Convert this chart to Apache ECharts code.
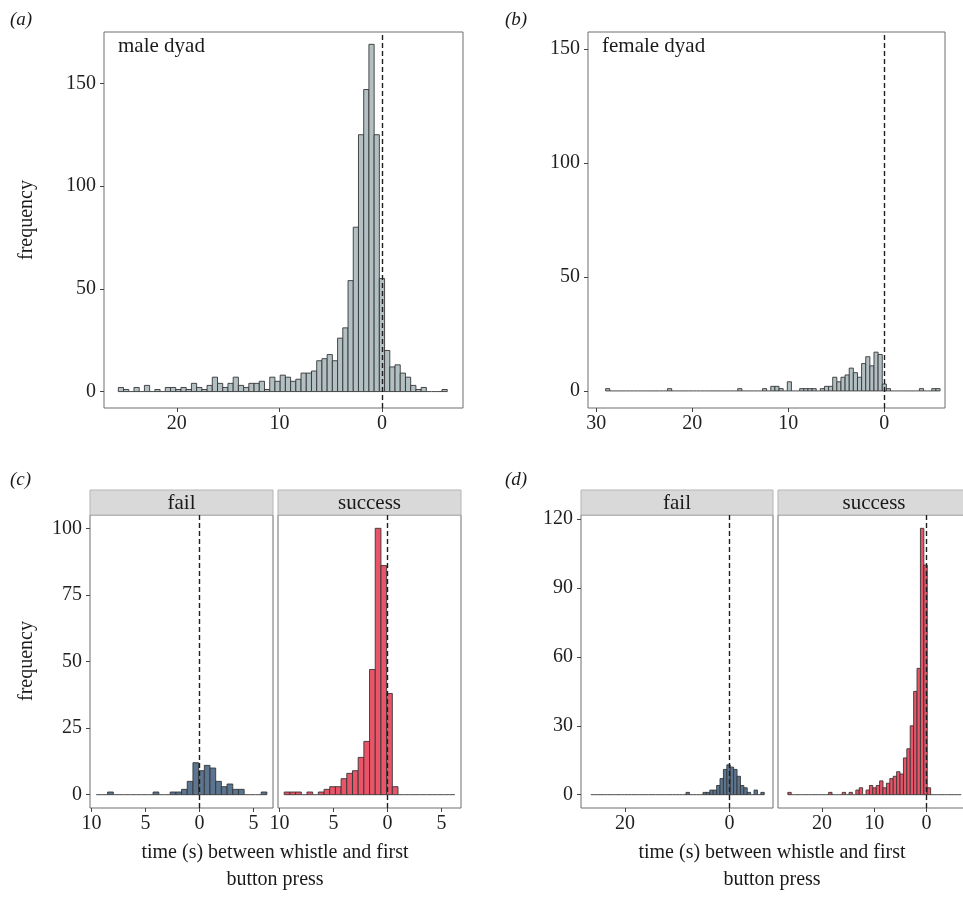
<!DOCTYPE html>
<html>
<head>
<meta charset="utf-8">
<script src="https://cdn.jsdelivr.net/npm/echarts@6/dist/echarts.min.js"></script>
<style>
  html, body { margin: 0; padding: 0; background: #ffffff; }
  #chart { width: 963px; height: 908px; }
</style>
</head>
<body>
<div id="chart"></div>
<script>
// ---- Histogram counts: time (s) between whistle and first button press ----
// Each panel: bin width, centre of the first (longest-latency) bin, counts in bin order.

// (a) male dyad
const maleBinWidth = 0.509;
const maleFirstCentre = 25.45;
const maleCounts = [2,1,0,2,0,3,0,1,0,2, 2,1,2,1,4,2,1,3,7,4, 2,4,7,3,2,4,4,5,1,7,
                    5,8,7,5,6,9,9,10,15,16, 18,15,26,31,54,80,125,147,169,125,
                    55,20,12,13,9,7,3,1,2,0, 0,0,1];

// (b) female dyad
const femaleBinWidth = 0.43;
const femaleFirstCentre = 28.81;
const femaleCounts = [1, 0,0,0,0,0,0,0,0,0,0,0,0,0,0, 1, 0,0,0,0,0,0,0,0,0,0,0,0,0,0,0,0,
                      1, 0,0,0,0,0, 1, 0, 2, 2, 1, 0, 4, 0, 0, 1, 1, 1, 1, 0, 1, 2, 2,
                      6, 4, 6, 7, 10, 8, 6, 12, 15, 11, 17, 16, 3, 1,
                      0,0,0,0,0,0,0, 1, 0, 0, 1, 1];

// (c) male dyad by outcome
const cBinWidth = 0.527;
const cFirstCentre = 9.311;
const cFailCounts    = [0,0,1,0,0,0,0,0,0,0, 1,0,0,1,1,2,5,12,9,11, 10,5,3,4,2,2,0,0,0,1];
const cSuccessCounts = [1,1,1,0,1,0,1,2,3,3, 6,8,9,14,20,47,100,86,38,3, 0,0,0,0,0,0,0,0,0,0];

// (d) female dyad by outcome
const dBinWidth = 0.65;
const dFirstCentre = 26.2;
const dFailCounts = [0,0,0,0,0,0,0,0,0,0, 0,0,0,0,0,0,0,0,0,0, 0,0,0,0,0,0,0,0,1,0,
                     0,0,0,1,1,2,2,4,7,11, 13,12,11,8,4,3,1,0,2,0, 1];
const dSuccessCounts = [1,0,0,0,0,0,0,0,0,0, 0,0,1,0,0,0,1,0,1,0, 2,3,0,2,4,3,4,6,3,5,
                        7,8,10,9,16,20,30,45,55,116, 100,3,0,0,0,0,0,0,0,0, 0];

// Axis tick values
const ticksA = { x: [0, 10, 20], y: [0, 50, 100, 150] };
const ticksB = { x: [0, 10, 20, 30], y: [0, 50, 100, 150] };
const ticksC = { x: [-5, 0, 5, 10], y: [0, 25, 50, 75, 100] };
const ticksDFail = [0, 20];
const ticksDSuccess = [0, 10, 20];
const ticksDY = [0, 30, 60, 90, 120];

// Labels
const panelTags = ['(a)', '(b)', '(c)', '(d)'];
const facetNames = ['fail', 'success'];
const yTitle = 'frequency';
const xTitleLines = ['time (s) between whistle and first', 'button press'];

// ---- Styling ----
const SERIF = '"Liberation Serif", "DejaVu Serif", serif';
const GREY_FILL = '#b3c0c3';
const FAIL_FILL = '#5b7590';
const SUCCESS_FILL = '#ea5468';
const BAR_EDGE = '#353535';

function binTable(first, width, counts) {
  return counts.map((n, i) => [first - i * width, n]);
}

function histRenderer(width, fill) {
  return function (params, api) {
    const c = api.value(0);
    const n = api.value(1);
    const p0 = api.coord([c - width / 2, 0]);
    const p1 = api.coord([c + width / 2, n]);
    const x = Math.min(p0[0], p1[0]);
    const w = Math.abs(p0[0] - p1[0]);
    if (n === 0) {
      return { type: 'line', shape: { x1: x, y1: p0[1], x2: x + w, y2: p0[1] },
               style: { stroke: BAR_EDGE, lineWidth: 0.9 } };
    }
    const y = Math.min(p0[1], p1[1]);
    const h = Math.abs(p0[1] - p1[1]);
    return { type: 'rect', shape: { x: x, y: y, width: w, height: h },
             style: { fill: fill, stroke: BAR_EDGE, lineWidth: 0.9 } };
  };
}

function histSeries(idx, first, width, counts, fill) {
  return {
    type: 'custom',
    xAxisIndex: idx, yAxisIndex: idx,
    data: binTable(first, width, counts),
    renderItem: histRenderer(width, fill),
    silent: true,
    markLine: {
      silent: true, symbol: 'none', animation: false,
      label: { show: false },
      lineStyle: { color: '#1e1e1e', type: [5, 3], width: 1.4 },
      data: [{ xAxis: 0 }]
    }
  };
}

const gridStyle = { show: true, borderColor: '#6f6f6f', borderWidth: 1,
                    backgroundColor: 'transparent', containLabel: false, outerBoundsMode: 'none' };
const grids = [
  Object.assign({ left: 104, top: 32, width: 359, height: 376 }, gridStyle),   // a
  Object.assign({ left: 588, top: 32, width: 357, height: 376 }, gridStyle),   // b
  Object.assign({ left: 90,  top: 515, width: 183, height: 293 }, gridStyle),  // c fail
  Object.assign({ left: 278, top: 515, width: 183, height: 293 }, gridStyle),  // c success
  Object.assign({ left: 581, top: 515, width: 192, height: 293 }, gridStyle),  // d fail
  Object.assign({ left: 778, top: 515, width: 192, height: 293 }, gridStyle)   // d success
];

const labelFont = { fontFamily: SERIF, fontSize: 20, color: '#1f1f1f' };

function xAxis(idx, min, max, ticks) {
  return {
    type: 'value', gridIndex: idx, inverse: true, min: min, max: max,
    axisLine: { show: false, onZero: false },
    splitLine: { show: false },
    axisTick: { show: true, length: 4, lineStyle: { color: '#444' }, customValues: ticks },
    axisLabel: Object.assign({ margin: 6, customValues: ticks,
                               formatter: v => String(Math.abs(v)) }, labelFont)
  };
}

function yAxis(idx, min, max, ticks, showLabels) {
  return {
    type: 'value', gridIndex: idx, min: min, max: max,
    axisLine: { show: false, onZero: false },
    splitLine: { show: false },
    axisTick: { show: showLabels, length: 4, lineStyle: { color: '#444' }, customValues: ticks },
    axisLabel: Object.assign({ show: showLabels, margin: 8, customValues: ticks }, labelFont)
  };
}

const xAxes = [
  xAxis(0, -7.9, 27.1, ticksA.x),
  xAxis(1, -6.32, 30.86, ticksB.x),
  xAxis(2, -6.8, 10.15, ticksC.x),
  xAxis(3, -6.8, 10.15, ticksC.x),
  xAxis(4, -8.3, 28.4, ticksDFail),
  xAxis(5, -8.3, 28.4, ticksDSuccess)
];

const yAxes = [
  yAxis(0, -8, 175, ticksA.y, true),
  yAxis(1, -7.5, 157.5, ticksB.y, true),
  yAxis(2, -5, 105, ticksC.y, true),
  yAxis(3, -5, 105, ticksC.y, false),
  yAxis(4, -5.8, 121.8, ticksDY, true),
  yAxis(5, -5.8, 121.8, ticksDY, false)
];

const series = [
  histSeries(0, maleFirstCentre, maleBinWidth, maleCounts, GREY_FILL),
  histSeries(1, femaleFirstCentre, femaleBinWidth, femaleCounts, GREY_FILL),
  histSeries(2, cFirstCentre, cBinWidth, cFailCounts, FAIL_FILL),
  histSeries(3, cFirstCentre, cBinWidth, cSuccessCounts, SUCCESS_FILL),
  histSeries(4, dFirstCentre, dBinWidth, dFailCounts, FAIL_FILL),
  histSeries(5, dFirstCentre, dBinWidth, dSuccessCounts, SUCCESS_FILL)
];

// Text drawn from its anchor point (x, y)
function textAt(x, y, text, font, align, vAlign, rotation) {
  return { type: 'text', x: x, y: y, rotation: rotation || 0,
           style: { text: text, font: font, fill: '#1a1a1a',
                    align: align || 'left', verticalAlign: vAlign || 'middle' } };
}

// Facet strips above the lower panels
function strip(left, width, text) {
  return [
    { type: 'rect', shape: { x: left, y: 490, width: width, height: 25 },
      style: { fill: '#d9d9d9', stroke: '#b5b5b5', lineWidth: 1 } },
    textAt(left + width / 2, 503, text, '21px ' + SERIF, 'center', 'middle')
  ];
}

const TAG_FONT = 'italic 19px ' + SERIF;
const BODY_FONT = '20px ' + SERIF;

const graphics = [].concat(
  strip(90, 183, facetNames[0]),
  strip(278, 183, facetNames[1]),
  strip(581, 192, facetNames[0]),
  strip(778, 192, facetNames[1]),
  [
    textAt(10, 20, panelTags[0], TAG_FONT),
    textAt(505, 20, panelTags[1], TAG_FONT),
    textAt(10, 480, panelTags[2], TAG_FONT),
    textAt(505, 480, panelTags[3], TAG_FONT),
    textAt(118, 46, 'male dyad', '21px ' + SERIF),
    textAt(602, 46, 'female dyad', '21px ' + SERIF),
    textAt(27, 220, yTitle, BODY_FONT, 'center', 'middle', Math.PI / 2),
    textAt(27, 661, yTitle, BODY_FONT, 'center', 'middle', Math.PI / 2),
    textAt(275, 853, xTitleLines[0], BODY_FONT, 'center'),
    textAt(275, 880, xTitleLines[1], BODY_FONT, 'center'),
    textAt(772, 853, xTitleLines[0], BODY_FONT, 'center'),
    textAt(772, 880, xTitleLines[1], BODY_FONT, 'center')
  ]
);

const chart = echarts.init(document.getElementById('chart'), null, { renderer: 'canvas' });
chart.setOption({
  animation: false,
  backgroundColor: '#ffffff',
  grid: grids,
  xAxis: xAxes,
  yAxis: yAxes,
  series: series,
  graphic: graphics
});
</script>
</body>
</html>
